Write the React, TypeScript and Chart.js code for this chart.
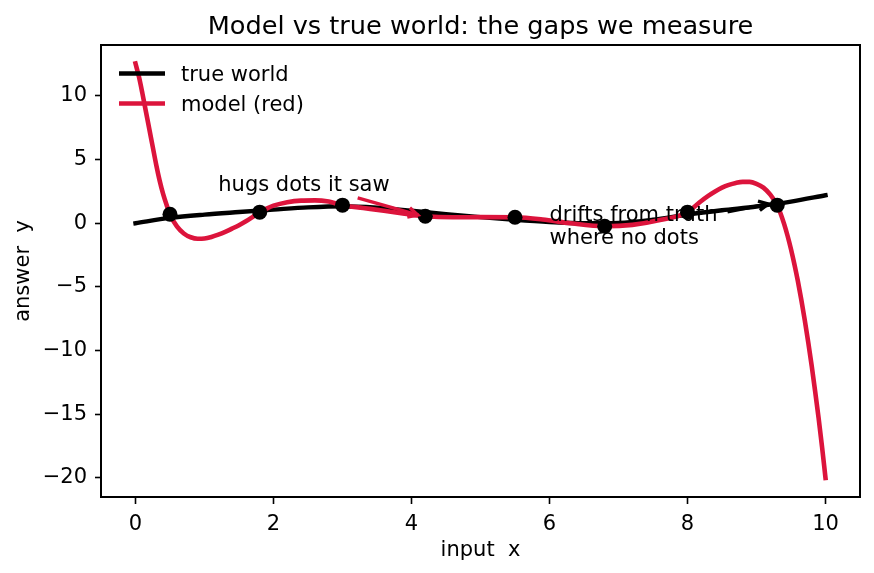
import React, { useEffect, useRef } from "react";
import { Chart, registerables } from "chart.js";

Chart.register(...registerables);

const FONT = "DejaVu Sans";
const RED = "#dc143c";

const titleText = "Model vs true world: the gaps we measure";
const xAxisLabel = "input  x";
const yAxisLabel = "answer  y";
const xTickValues = [0, 2, 4, 6, 8, 10];
const yTickValues = [-20, -15, -10, -5, 0, 5, 10];
const xRange = [-0.5, 10.5];
const yRange = [-21.5, 14.0];

const trueWorldX = [0, 0.5, 1, 1.5, 2, 2.5, 3, 3.5, 4, 4.5, 5, 5.5, 6, 6.5, 7, 7.5, 8, 8.5, 9, 9.5, 10];
const trueWorldY = [0, 0.42, 0.68, 0.88, 1.07, 1.25, 1.34, 1.22, 0.98, 0.72, 0.48, 0.27, 0.1, 0.0, 0.03, 0.28, 0.68, 1.02, 1.32, 1.7, 2.2];

const modelX = [0, 0.05, 0.1, 0.15, 0.2, 0.25, 0.3, 0.35, 0.4, 0.45, 0.5, 0.6, 0.7, 0.8, 0.9, 1.0, 1.1, 1.2, 1.3, 1.4, 1.5, 1.6, 1.7, 1.8, 1.9, 2.0, 2.2, 2.4, 2.6, 2.8, 3.0, 3.3, 3.6, 3.9, 4.2, 4.6, 5.0, 5.5, 5.9, 6.3, 6.8, 7.2, 7.6, 8.0, 8.1, 8.2, 8.3, 8.4, 8.5, 8.6, 8.7, 8.8, 8.9, 9.0, 9.1, 9.2, 9.3, 9.35, 9.4, 9.45, 9.5, 9.55, 9.6, 9.65, 9.7, 9.75, 9.8, 9.85, 9.9, 9.95, 10.0];
const modelY = [12.55, 11.5, 10.2, 8.8, 7.4, 6.0, 4.6, 3.35, 2.3, 1.45, 0.71, -0.25, -0.8, -1.1, -1.22, -1.2, -1.08, -0.9, -0.68, -0.42, -0.15, 0.15, 0.5, 0.87, 1.15, 1.38, 1.65, 1.78, 1.8, 1.7, 1.42, 1.2, 0.98, 0.75, 0.55, 0.47, 0.48, 0.47, 0.3, 0.0, -0.24, -0.13, 0.25, 0.87, 1.3, 1.75, 2.15, 2.5, 2.8, 3.02, 3.17, 3.25, 3.25, 3.1, 2.8, 2.25, 1.42, 0.75, -0.05, -0.98, -2.04, -3.24, -4.56, -6.03, -7.62, -9.35, -11.2, -13.2, -15.3, -17.58, -20.0];

const seenX = [0.5, 1.8, 3.0, 4.2, 5.5, 6.8, 8.0, 9.3];
const seenY = [0.71, 0.87, 1.42, 0.55, 0.47, -0.24, 0.87, 1.42];

const legendNames = ["true world", "model (red)"];
const legendColors = ["#000000", RED];

const noteHugsLines = ["hugs dots it saw"];
const noteHugsAt = [1.2, 2.5];
const noteHugsArrowFrom = [3.22, 1.99];
const noteHugsArrowTo = [4.09, 0.65];

const noteDriftLines = ["drifts from truth", "where no dots"];
const noteDriftAt = [6.0, 0.18];
const noteDriftArrowFrom = [8.58, 0.89];
const noteDriftArrowTo = [9.17, 1.52];

const toPoints = (xs: number[], ys: number[]) => xs.map((x, i) => ({ x, y: ys[i] }));

function drawArrow(ctx: CanvasRenderingContext2D, x0: number, y0: number, x1: number, y1: number, color: string) {
  const ang = Math.atan2(y1 - y0, x1 - x0);
  const hl = 9.5;
  const hw = 4.8;
  ctx.save();
  ctx.strokeStyle = color;
  ctx.lineWidth = 3.4;
  ctx.lineCap = "butt";
  ctx.lineJoin = "miter";
  ctx.beginPath();
  ctx.moveTo(x0, y0);
  ctx.lineTo(x1, y1);
  ctx.stroke();
  const bx = x1 - hl * Math.cos(ang);
  const by = y1 - hl * Math.sin(ang);
  const px = -Math.sin(ang) * hw;
  const py = Math.cos(ang) * hw;
  ctx.beginPath();
  ctx.moveTo(bx + px, by + py);
  ctx.lineTo(x1, y1);
  ctx.lineTo(bx - px, by - py);
  ctx.stroke();
  ctx.restore();
}

const decorPlugin = {
  id: "decor",
  afterDraw(chart: any) {
    const { ctx, chartArea: a, scales } = chart;
    const xs = scales.x;
    const ys = scales.y;
    ctx.save();

    // annotations
    ctx.fillStyle = "#000";
    ctx.font = `21px "${FONT}"`;
    ctx.textAlign = "left";
    ctx.textBaseline = "alphabetic";
    noteHugsLines.forEach((t, i) => {
      ctx.fillText(t, xs.getPixelForValue(noteHugsAt[0]), ys.getPixelForValue(noteHugsAt[1]) + i * 23);
    });
    noteDriftLines.forEach((t, i) => {
      ctx.fillText(t, xs.getPixelForValue(noteDriftAt[0]), ys.getPixelForValue(noteDriftAt[1]) + i * 23);
    });
    drawArrow(ctx,
      xs.getPixelForValue(noteHugsArrowFrom[0]), ys.getPixelForValue(noteHugsArrowFrom[1]),
      xs.getPixelForValue(noteHugsArrowTo[0]), ys.getPixelForValue(noteHugsArrowTo[1]), RED);
    drawArrow(ctx,
      xs.getPixelForValue(noteDriftArrowFrom[0]), ys.getPixelForValue(noteDriftArrowFrom[1]),
      xs.getPixelForValue(noteDriftArrowTo[0]), ys.getPixelForValue(noteDriftArrowTo[1]), "#000");

    // legend
    legendNames.forEach((name, i) => {
      const yy = a.top + 28.5 + i * 30;
      ctx.strokeStyle = legendColors[i];
      ctx.lineWidth = 4.4;
      ctx.lineCap = "butt";
      ctx.beginPath();
      ctx.moveTo(a.left + 18, yy);
      ctx.lineTo(a.left + 64, yy);
      ctx.stroke();
      ctx.fillStyle = "#000";
      ctx.font = `21px "${FONT}"`;
      ctx.textAlign = "left";
      ctx.textBaseline = "alphabetic";
      ctx.fillText(name, a.left + 80, yy + 7.6);
    });

    // frame
    ctx.strokeStyle = "#000";
    ctx.lineWidth = 2;
    ctx.strokeRect(a.left, a.top, a.right - a.left, a.bottom - a.top);

    // title
    ctx.fillStyle = "#000";
    ctx.font = `25.6px "${FONT}"`;
    ctx.textAlign = "center";
    ctx.textBaseline = "alphabetic";
    ctx.fillText(titleText, (a.left + a.right) / 2, 34);
    ctx.restore();
  },
};

export default function App() {
  const ref = useRef<HTMLCanvasElement | null>(null);
  useEffect(() => {
    document.body.style.margin = "0";
    const canvas = ref.current!;
    const tickFont = { family: FONT, size: 21 };
    const chart = new Chart(canvas, {
      type: "line",
      data: {
        datasets: [
          {
            label: "seen dots",
            data: toPoints(seenX, seenY),
            showLine: false,
            pointRadius: 7.5,
            pointHoverRadius: 7.5,
            pointBackgroundColor: "#000",
            pointBorderColor: "#000",
            pointBorderWidth: 0,
            order: 0,
          },
          {
            label: legendNames[1],
            data: toPoints(modelX, modelY),
            borderColor: RED,
            borderWidth: 4.6,
            pointRadius: 0,
            fill: false,
            cubicInterpolationMode: "monotone",
            borderCapStyle: "square",
            order: 1,
          },
          {
            label: legendNames[0],
            data: toPoints(trueWorldX, trueWorldY),
            borderColor: "#000",
            borderWidth: 4.4,
            pointRadius: 0,
            fill: false,
            cubicInterpolationMode: "monotone",
            borderCapStyle: "square",
            order: 2,
          },
        ],
      },
      options: {
        animation: false,
        responsive: false,
        maintainAspectRatio: false,
        devicePixelRatio: 1,
        layout: { padding: { left: 0, right: 14, top: 45, bottom: 0 } },
        plugins: {
          legend: { display: false },
          title: { display: false },
          tooltip: { enabled: false },
        },
        scales: {
          x: {
            type: "linear",
            min: xRange[0],
            max: xRange[1],
            afterBuildTicks: (s: any) => {
              s.ticks = xTickValues.map((v) => ({ value: v }));
            },
            afterFit: (s: any) => {
              s.height = 76;
            },
            ticks: {
              font: tickFont,
              color: "#000",
              padding: 8,
              maxRotation: 0,
              autoSkip: false,
              callback: (v: any) => String(v),
            },
            grid: {
              display: true,
              drawOnChartArea: false,
              drawTicks: true,
              tickLength: 7,
              tickWidth: 1.6,
              tickColor: "#000",
            },
            border: { display: false },
            title: {
              display: true,
              text: xAxisLabel,
              color: "#000",
              font: tickFont,
              padding: { top: 0, bottom: 9.7 },
            },
          },
          y: {
            type: "linear",
            min: yRange[0],
            max: yRange[1],
            afterBuildTicks: (s: any) => {
              s.ticks = yTickValues.map((v) => ({ value: v }));
            },
            afterFit: (s: any) => {
              s.width = 101;
            },
            ticks: {
              font: tickFont,
              color: "#000",
              padding: 8,
              autoSkip: false,
              callback: (v: any) => (v < 0 ? "\u2212" + Math.abs(v) : String(v)),
            },
            grid: {
              display: true,
              drawOnChartArea: false,
              drawTicks: true,
              tickLength: 6,
              tickWidth: 1.6,
              tickColor: "#000",
            },
            border: { display: false },
            title: {
              display: true,
              text: yAxisLabel,
              color: "#000",
              font: tickFont,
              padding: { top: 11, bottom: 0 },
            },
          },
        },
      },
      plugins: [decorPlugin],
    } as any);
    return () => chart.destroy();
  }, []);
  return (
    <div style={{ position: "absolute", left: 0, top: 0, width: 874, height: 573, background: "#fff" }}>
      <canvas ref={ref} width={874} height={573} />
    </div>
  );
}
